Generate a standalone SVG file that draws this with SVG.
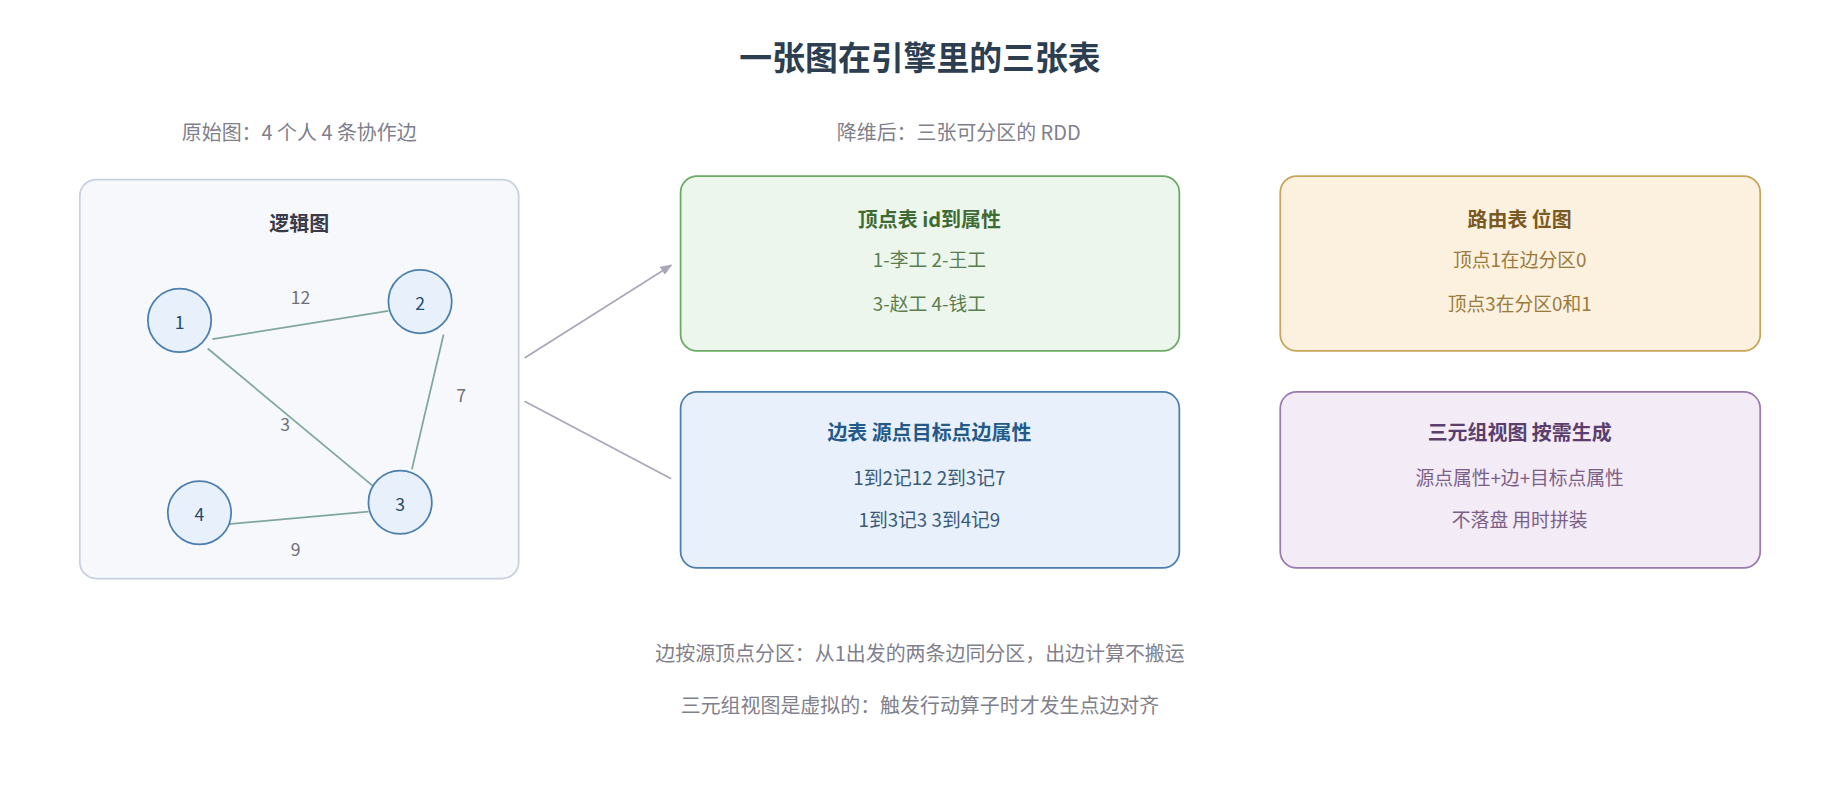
<svg xmlns="http://www.w3.org/2000/svg" width="1840" height="800" viewBox="0 0 1840 800">
<style>
text{font-family:"Noto Sans CJK SC","Noto Sans",sans-serif;text-anchor:middle;dominant-baseline:central}
.sub{font-size:17px;fill:#80808c}
.bt{font-size:17px;font-weight:bold}
.bl{font-size:16px}
.nd{fill:#e8f1fb;stroke:#4a7fb0;stroke-width:1.5}
.nt{font-size:15px;fill:#244a70}
.el{font-size:15px;fill:#707078}
.e{stroke:#7fa89a;stroke-width:1.5}
.a{stroke:#a8a8b8;stroke-width:1.5;fill:none}
</style>
<defs><marker id="ah" markerWidth="10" markerHeight="8" refX="9" refY="4" orient="auto" markerUnits="userSpaceOnUse"><path d="M0,0 L10,4 L0,8 Z" fill="#a8a8b8"/></marker></defs>
<rect width="1840" height="800" fill="#fff"/>
<g transform="scale(1.17347)">
<text x="784" y="47" style="font-size:28px;font-weight:bold;fill:#2c3e50">一张图在引擎里的三张表</text>
<text class="sub" x="255" y="112">原始图：4 个人 4 条协作边</text>
<text class="sub" x="817" y="112">降维后：三张可分区的 RDD</text>
<g id="logic">
<rect x="68" y="153" width="374" height="340" rx="14" fill="#f6f8fc" stroke="#c8d0de" stroke-width="1.5"/>
<text class="bt" x="255" y="190" fill="#3a3a48">逻辑图</text>
</g>
<g id="graph-edges">
<line class="e" x1="181" y1="289" x2="331" y2="265"/>
<line class="e" x1="177" y1="297" x2="320" y2="416"/>
<line class="e" x1="378" y1="285" x2="351" y2="400"/>
<line class="e" x1="190" y1="447" x2="314" y2="436"/>
<text class="el" x="256" y="253">12</text>
<text class="el" x="393" y="336">7</text>
<text class="el" x="243" y="361">3</text>
<text class="el" x="252" y="467">9</text>
</g>
<g id="n1"><circle class="nd" cx="153" cy="273" r="27"/><text class="nt" x="153" y="274">1</text></g>
<g id="n2"><circle class="nd" cx="358" cy="257" r="27"/><text class="nt" x="358" y="258">2</text></g>
<g id="n3"><circle class="nd" cx="341" cy="428" r="27"/><text class="nt" x="341" y="429">3</text></g>
<g id="n4"><circle class="nd" cx="170" cy="437" r="27"/><text class="nt" x="170" y="438">4</text></g>
<g id="connectors">
<line class="a" x1="447" y1="305" x2="572" y2="226" marker-end="url(#ah)"/>
<line class="a" x1="447" y1="342" x2="572" y2="408"/>
</g>
<g id="vertex">
<rect x="580" y="150" width="425" height="149" rx="14" fill="#edf6ec" stroke="#6aaa64" stroke-width="1.5"/>
<text class="bt" x="792" y="186" fill="#3d6b33">顶点表 id到属性</text>
<text class="bl" x="792" y="220" fill="#5a7e50">1-李工 2-王工</text>
<text class="bl" x="792" y="258" fill="#5a7e50">3-赵工 4-钱工</text>
</g>
<g id="routing">
<rect x="1091" y="150" width="409" height="149" rx="14" fill="#fcf1df" stroke="#c8a45a" stroke-width="1.5"/>
<text class="bt" x="1295" y="186" fill="#7a5a22">路由表 位图</text>
<text class="bl" x="1295" y="220" fill="#9a7a3a">顶点1在边分区0</text>
<text class="bl" x="1295" y="258" fill="#9a7a3a">顶点3在分区0和1</text>
</g>
<g id="edges">
<rect x="580" y="334" width="425" height="150" rx="14" fill="#e8f1fb" stroke="#4a7fb0" stroke-width="1.5"/>
<text class="bt" x="792" y="368" fill="#245a8a">边表 源点目标点边属性</text>
<text class="bl" x="792" y="406" fill="#3a5a7a">1到2记12 2到3记7</text>
<text class="bl" x="792" y="442" fill="#3a5a7a">1到3记3 3到4记9</text>
</g>
<g id="triplet">
<rect x="1091" y="334" width="409" height="150" rx="14" fill="#f3ebf5" stroke="#9a7ab0" stroke-width="1.5"/>
<text class="bt" x="1295" y="368" fill="#5a3f6e">三元组视图 按需生成</text>
<text class="bl" x="1295" y="406" fill="#7a6088">源点属性+边+目标点属性</text>
<text class="bl" x="1295" y="442" fill="#7a6088">不落盘 用时拼装</text>
</g>
<text class="sub" x="784" y="556" fill="#707078">边按源顶点分区：从1出发的两条边同分区，出边计算不搬运</text>
<text class="sub" x="784" y="600" fill="#707078">三元组视图是虚拟的：触发行动算子时才发生点边对齐</text>
</g>
</svg>
